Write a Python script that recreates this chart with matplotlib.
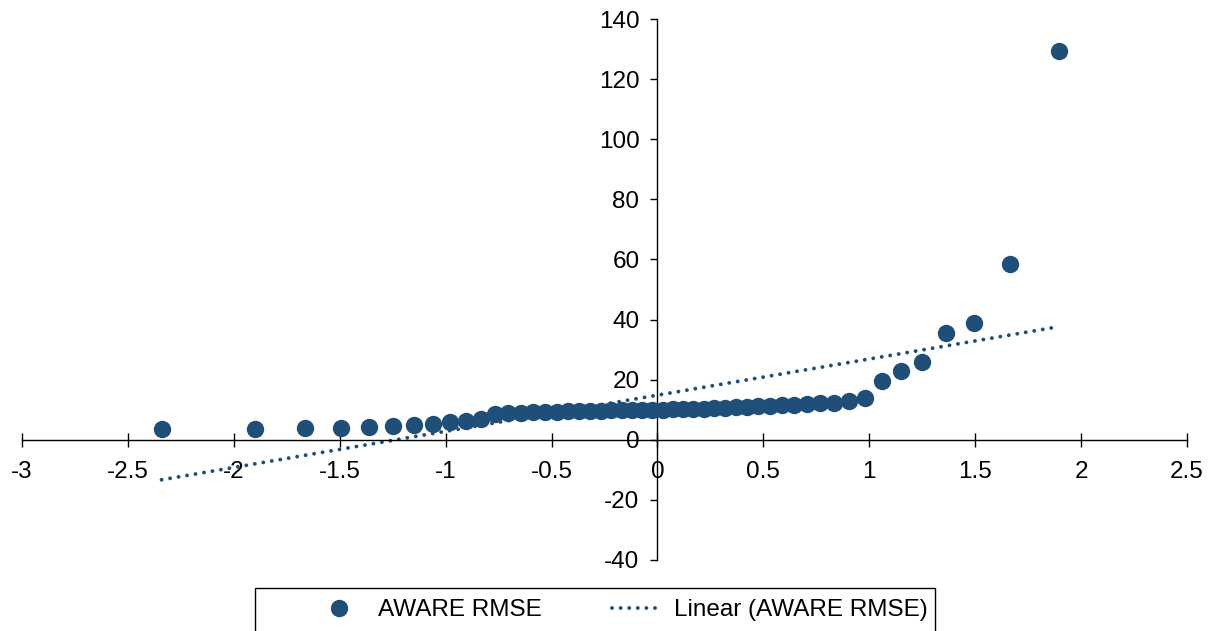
import matplotlib
matplotlib.use("Agg")
import matplotlib.pyplot as plt
import numpy as np
from matplotlib.ticker import FuncFormatter
from matplotlib.patches import Rectangle

plt.rcParams['font.family'] = ['Liberation Sans', 'DejaVu Sans']
plt.rcParams['axes.unicode_minus'] = False

# Theoretical normal quantiles (x) and AWARE RMSE values (y)
quantiles = [-2.341, -1.898, -1.664, -1.496, -1.362, -1.249, -1.150, -1.061, -0.980,
             -0.905, -0.834, -0.768, -0.705, -0.645, -0.586, -0.530, -0.475, -0.422,
             -0.370, -0.319, -0.268, -0.218, -0.169, -0.121, -0.072, -0.024,
             0.024, 0.072, 0.121, 0.169, 0.218, 0.268, 0.319, 0.370, 0.422,
             0.475, 0.530, 0.586, 0.645, 0.705, 0.768, 0.834, 0.905, 0.980,
             1.061, 1.150, 1.249, 1.362, 1.496, 1.664, 1.898]
rmse = [3.6, 3.6, 3.9, 3.9, 4.1, 4.6, 5.0, 5.4, 5.9,
        6.3, 6.8, 8.5, 8.8, 9.0, 9.2, 9.3, 9.4, 9.5,
        9.6, 9.7, 9.7, 9.8, 9.8, 9.9, 9.9, 10.0,
        10.0, 10.1, 10.2, 10.3, 10.4, 10.5, 10.6, 10.8, 11.0,
        11.2, 11.3, 11.5, 11.7, 11.9, 12.1, 12.4, 12.8, 13.9,
        19.6, 23.0, 26.0, 35.6, 39.0, 58.5, 129.5]

x_ticks = [-3, -2.5, -2, -1.5, -1, -0.5, 0, 0.5, 1, 1.5, 2, 2.5]
y_ticks = [-40, -20, 0, 20, 40, 60, 80, 100, 120, 140]

color = '#1f4e79'
fs = 17.5

fig = plt.figure(figsize=(12.12, 6.31), dpi=100)
ax = fig.add_axes([22/1212, 1 - 560/631, (1187-22)/1212, (560-19)/631])

x = np.array(quantiles)
y = np.array(rmse)
ax.plot(x, y, linestyle='none', marker='o', markersize=12.5, color=color,
        markeredgewidth=0, label='AWARE RMSE', zorder=3)

slope, intercept = np.polyfit(x, y, 1)
xl = np.array([x.min(), x.max()])
ax.plot(xl, slope * xl + intercept, color=color, linewidth=2.8,
        dashes=(0.01, 2.2), dash_capstyle='round', label='Linear (AWARE RMSE)', zorder=2)

ax.set_xlim(-3, 2.5)
ax.set_ylim(-40, 140)
ax.set_xticks(x_ticks)
ax.set_yticks(y_ticks)
fmt = FuncFormatter(lambda v, _: f"{v:g}")
ax.xaxis.set_major_formatter(fmt)
ax.yaxis.set_major_formatter(fmt)

for s in ['top', 'right']:
    ax.spines[s].set_visible(False)
ax.spines['left'].set_position(('data', 0))
ax.spines['bottom'].set_position(('data', 0))
for s in ['left', 'bottom']:
    ax.spines[s].set_linewidth(1.0)
    ax.spines[s].set_color('black')

ax.tick_params(axis='x', direction='inout', length=10, width=1.0, pad=10,
               labelsize=fs, colors='black')
ax.tick_params(axis='y', direction='out', length=5, width=1.0, pad=8,
               labelsize=fs, colors='black')

# legend frame (clipped by bottom edge of figure, as in the reference)
fig.patches.append(Rectangle((255/1212, 1 - 660/631), (935-255)/1212, 72/631,
                             transform=fig.transFigure, fill=False,
                             edgecolor='black', linewidth=1.0))
leg = fig.legend(loc='center left', bbox_to_anchor=(316/1212, 1 - 610/631),
                 ncol=2, frameon=False, fontsize=fs,
                 handlelength=1.9, columnspacing=2.9, borderpad=0,
                 handletextpad=0.65, borderaxespad=0)

fig.savefig('out.png', dpi=100)
